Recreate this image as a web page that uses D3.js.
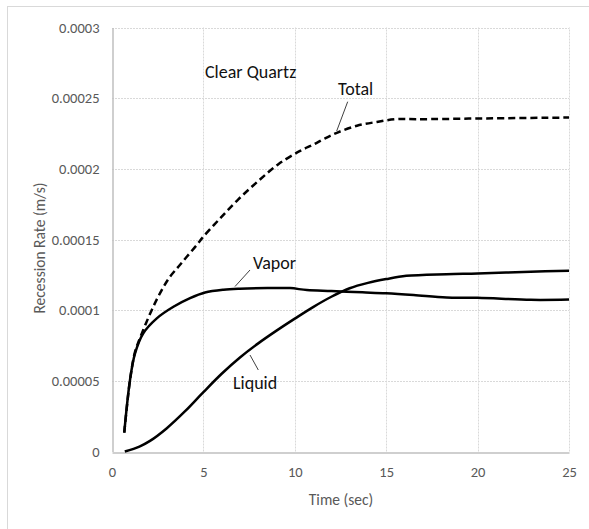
<!DOCTYPE html>
<html>
<head>
<meta charset="utf-8">
<script src="https://cdn.jsdelivr.net/npm/d3@7"></script>
<style>
  html, body { margin: 0; padding: 0; background: #fff; }
  svg { display: block; }
  text { font-family: Carlito, "Liberation Sans", "Open Sans", sans-serif; }
</style>
</head>
<body>
<div id="chart"></div>
<script>
// ---- data ----
const xTicks = [0, 5, 10, 15, 20, 25];
const yTicks = [0, 0.00005, 0.0001, 0.00015, 0.0002, 0.00025, 0.0003];
const yTickLabels = ["0", "0.00005", "0.0001", "0.00015", "0.0002", "0.00025", "0.0003"];

const totalT = [0.67, 0.985, 1.26, 1.49, 2.17, 2.72, 3.17, 3.63, 4.09, 4.64, 4.99, 5.91, 6.91, 8.01, 9.1, 10.29, 11.02, 11.57, 12.3, 13.4, 14.49, 15.58, 16.68, 20, 25];
const totalV = [0.0000133, 0.0000506, 0.0000705, 0.0000789, 0.0001, 0.0001142, 0.0001236, 0.0001307, 0.0001378, 0.0001462, 0.0001519, 0.0001649, 0.0001784, 0.0001915, 0.0002033, 0.0002127, 0.0002172, 0.000221, 0.0002255, 0.0002305, 0.0002332, 0.0002352, 0.0002351, 0.0002356, 0.0002363];

const vaporT = [0.67, 0.985, 1.26, 1.71, 2.45, 3.36, 4.27, 5.09, 6.1, 7.0, 8.5, 9.74, 10.66, 12, 13.7, 15, 16.5, 18.3, 20, 22.9, 25];
const vaporV = [0.0000133, 0.0000506, 0.0000694, 0.0000836, 0.0000942, 0.0001024, 0.0001085, 0.0001125, 0.0001145, 0.0001152, 0.0001156, 0.0001156, 0.0001142, 0.0001135, 0.0001126, 0.0001119, 0.0001107, 0.000109, 0.0001088, 0.0001073, 0.0001075];

const liquidT = [0.7, 1.5, 2.08, 3.0, 4.0, 5.0, 6.0, 7.0, 8.0, 9.0, 10.0, 11.0, 12.0, 13.0, 14.0, 15.0, 16.1, 18.3, 20, 22.9, 25];
const liquidV = [0, 0.0000035, 0.0000075, 0.0000165, 0.0000285, 0.000042, 0.000055, 0.0000665, 0.0000765, 0.0000855, 0.000094, 0.0001022, 0.0001095, 0.0001155, 0.0001193, 0.000122, 0.0001243, 0.0001255, 0.000126, 0.0001272, 0.0001279];

// ---- layout ----
const W = 589, H = 529;
const svg = d3.select("#chart").append("svg").attr("width", W).attr("height", H);

// outer frame
svg.append("line").attr("x1", 7).attr("x2", W).attr("y1", 6.5).attr("y2", 6.5)
  .attr("stroke", "#d9d9d9").attr("stroke-width", 1);
svg.append("line").attr("x1", 7.5).attr("x2", 7.5).attr("y1", 6).attr("y2", H)
  .attr("stroke", "#d9d9d9").attr("stroke-width", 1);

const x = d3.scaleLinear().domain([0, 25]).range([112, 569]);
const y = d3.scaleLinear().domain([0, 0.0003]).range([451.5, 27.5]);

// grid
const grid = svg.append("g");
grid.selectAll(".gy").data(yTicks.slice(1)).enter().append("line")
  .attr("x1", x(0)).attr("x2", x(25))
  .attr("y1", d => Math.round(y(d)) + 0.5).attr("y2", d => Math.round(y(d)) + 0.5)
  .attr("stroke", "#d9d9d9").attr("stroke-width", 1).attr("stroke-dasharray", "2,1");
grid.selectAll(".gx").data(xTicks.slice(1)).enter().append("line")
  .attr("y1", y(0)).attr("y2", y(0.0003))
  .attr("x1", d => Math.round(x(d)) + 0.5).attr("x2", d => Math.round(x(d)) + 0.5)
  .attr("stroke", "#d9d9d9").attr("stroke-width", 1).attr("stroke-dasharray", "2,1");

// axes
const xAxis = d3.axisBottom(x).tickValues(xTicks).tickSize(0).tickPadding(14).tickFormat(d3.format("d"));
const gx = svg.append("g").attr("transform", `translate(0,${Math.round(y(0)) + 0.5})`).call(xAxis);
gx.select(".domain").attr("stroke", "#bfbfbf").attr("stroke-width", 1.5);
gx.selectAll("text").attr("fill", "#595959").style("font-size", "14.5px");

const yAxis = d3.axisLeft(y).tickValues(yTicks).tickSize(0).tickPadding(13)
  .tickFormat((d, i) => yTickLabels[i]);
const gy = svg.append("g").attr("transform", `translate(${Math.round(x(0)) + 0.5},0)`).call(yAxis);
gy.select(".domain").attr("stroke", "#bfbfbf").attr("stroke-width", 1.5);
gy.selectAll("text").attr("fill", "#595959").style("font-size", "14.5px");

// axis titles
svg.append("text").attr("x", 341).attr("y", 505).attr("text-anchor", "middle")
  .attr("fill", "#595959").style("font-size", "15.5px").text("Time (sec)");
svg.append("text").attr("transform", "translate(45,248) rotate(-90)").attr("text-anchor", "middle")
  .attr("fill", "#595959").style("font-size", "15.5px").text("Recession Rate (m/s)");

// lines
const line = d3.line().x(d => x(d[0])).y(d => y(d[1])).curve(d3.curveCatmullRom.alpha(0.5));
const zip = (a, b) => a.map((v, i) => [v, b[i]]);

svg.append("path").datum(zip(vaporT, vaporV)).attr("d", line)
  .attr("fill", "none").attr("stroke", "#000").attr("stroke-width", 2.5);
svg.append("path").datum(zip(liquidT, liquidV)).attr("d", line)
  .attr("fill", "none").attr("stroke", "#000").attr("stroke-width", 2.5);
svg.append("path").datum(zip(totalT, totalV)).attr("d", line)
  .attr("fill", "none").attr("stroke", "#000").attr("stroke-width", 2.5)
  .attr("stroke-dasharray", "7,4");

// annotations
const ann = svg.append("g").style("font-size", "18px").attr("fill", "#111");
ann.append("text").attr("x", 205).attr("y", 78).text("Clear Quartz");
ann.append("text").attr("x", 338).attr("y", 95).text("Total");
ann.append("text").attr("x", 253).attr("y", 269).text("Vapor");
ann.append("text").attr("x", 233).attr("y", 389).text("Liquid");

const leaders = svg.append("g").attr("stroke", "#404040").attr("stroke-width", 1);
leaders.append("line").attr("x1", 347.7).attr("y1", 101.7).attr("x2", 336.7).attr("y2", 131);
leaders.append("line").attr("x1", 250).attr("y1", 270).attr("x2", 235).attr("y2", 286.5);
leaders.append("line").attr("x1", 258.3).attr("y1", 370).attr("x2", 250).attr("y2", 355);
</script>
</body>
</html>
